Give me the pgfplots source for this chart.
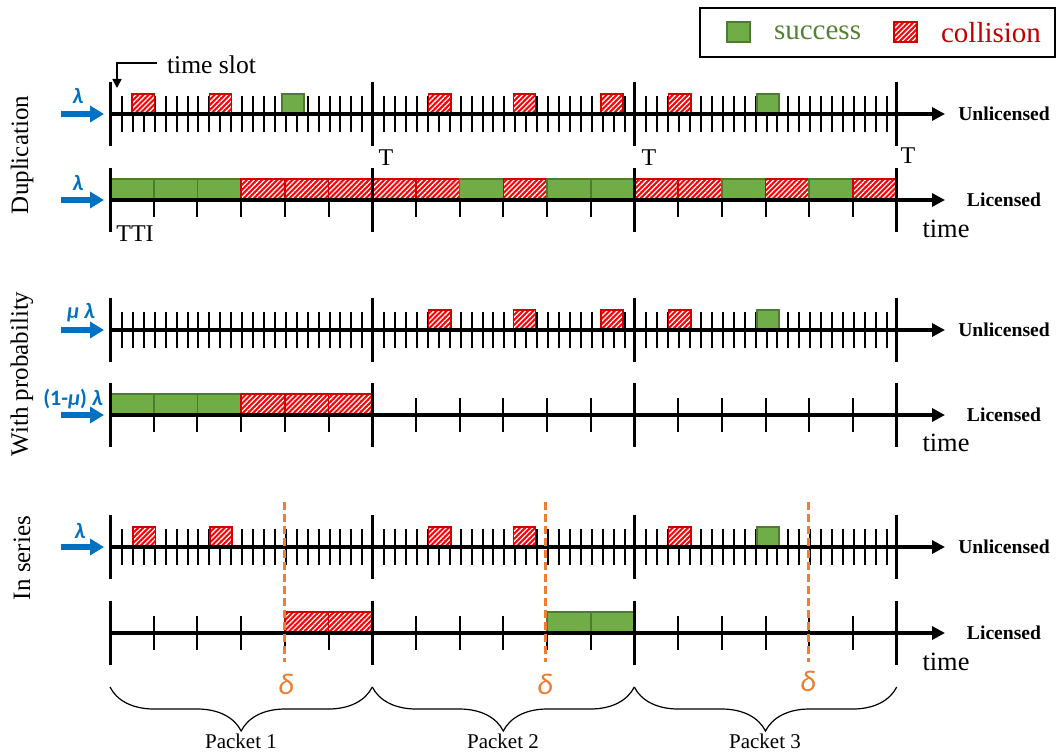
\documentclass[border=0pt]{standalone}
\usepackage{fontspec}
\setmainfont{Liberation Serif}
\newfontfamily\carlito{Carlito}
\usepackage{pgfplots}
\usepackage{pgfplotstable}
\pgfplotsset{compat=1.18}
\usetikzlibrary{arrows.meta,patterns.meta,decorations.pathreplacing}

\definecolor{sgreen}{HTML}{70AD47}
\definecolor{sgreenD}{HTML}{4E7A31}
\definecolor{cred}{HTML}{FF0000}
\definecolor{credD}{HTML}{D00000}
\definecolor{mblue}{HTML}{0070C0}
\definecolor{morange}{HTML}{ED7D31}
\definecolor{ctext}{HTML}{C00000}
\definecolor{stext}{HTML}{548235}

% time-slot ticks (unlicensed), 24 slots per period T
\pgfplotstableread{
x d
121.9 0
132.9 0
143.8 0
154.7 0
165.6 0
176.6 0
187.5 0
198.4 0
209.3 0
220.3 0
231.2 0
242.1 0
253.0 0
263.9 0
274.9 0
285.8 0
296.7 0
307.7 0
318.6 0
329.5 0
340.4 0
351.4 0
362.3 0
384.1 0
395.1 0
406.0 0
416.9 0
427.8 0
438.8 0
449.7 0
460.6 0
471.5 0
482.5 0
493.4 0
504.3 0
515.2 0
526.2 0
537.1 0
548.0 0
558.9 0
569.9 0
580.8 0
591.7 0
602.6 0
613.6 0
624.5 0
646.3 0
657.3 0
668.2 0
679.1 0
690.0 0
701.0 0
711.9 0
722.8 0
733.7 0
744.7 0
755.6 0
766.5 0
777.4 0
788.4 0
799.3 0
810.2 0
821.1 0
832.1 0
843.0 0
853.9 0
864.8 0
875.8 0
886.7 0
}\unlticks

% TTI ticks (licensed), 6 TTIs per period T
\pgfplotstableread{
x d
153.7 0
197.4 0
241.1 0
284.8 0
328.5 0
415.9 0
459.6 0
503.3 0
547.0 0
590.7 0
678.1 0
721.8 0
765.5 0
809.2 0
852.9 0
}\licticks

\pgfplotstableread{
x d
110 0
372.3 0
634.3 0
896.7 0
}\majors

\pgfplotsset{
  succ/.style={fill=sgreen, draw=sgreenD, line width=0.8pt},
  collf/.style={fill=cred, draw=credD, line width=0.8pt},
  collp/.style={pattern={Lines[angle=45,distance=1.8pt,line width=0.65pt]}, pattern color=white, draw=credD, line width=0.8pt},
  utk/.style={on layer=pre main, mark layer=like plot, only marks, mark=|, mark size=9pt, mark options={line width=1pt, draw=black}},
  ltk/.style={on layer=pre main, mark layer=like plot, only marks, mark=|, mark size=8.5pt, mark options={line width=1pt, draw=black}},
  mtk/.style={only marks, mark=|, mark size=16.2pt, mark options={line width=1.5pt, draw=black}},
  tl/.style={black, line width=2pt, -{Triangle[length=6.5pt,width=6.5pt]}},
  ba/.style={mblue, line width=2.8pt, -{Triangle[length=7pt,width=8pt]}},
  dl/.style={morange, line width=1.5pt, dash pattern=on 4pt off 2pt},
  br/.style={black, line width=0.6pt, decorate, decoration={brace, mirror, amplitude=22pt}},
}
\newcommand{\fsz}[1]{\fontsize{#1}{#1}\selectfont}
% success box: x1 x2 ytop ybottom
\newcommand{\Sb}[4]{\addplot[succ] coordinates {(#1,#3)(#2,#3)(#2,#4)(#1,#4)} --cycle;}
% collision box: x1 x2 ytop ybottom
\newcommand{\Cb}[4]{\addplot[collf] coordinates {(#1,#3)(#2,#3)(#2,#4)(#1,#4)} --cycle;
  \addplot[collp] coordinates {(#1,#3)(#2,#3)(#2,#4)(#1,#4)} --cycle;}

\begin{document}
\begin{tikzpicture}
\begin{axis}[scale only axis, width=528.5pt, height=376.5pt,
  xmin=0, xmax=1057, ymin=0, ymax=753, y dir=reverse,
  axis lines=none, clip=false, set layers,
  every node/.style={inner sep=0pt}]

\path (axis cs:0,0) rectangle (axis cs:1057,753);

% ================= ticks =================
\addplot[utk] table[x=x, y expr=114] {\unlticks};
\addplot[ltk] table[x=x, y expr=200] {\licticks};
\addplot[utk] table[x=x, y expr=330] {\unlticks};
\addplot[ltk] table[x=x, y expr=415] {\licticks};
\addplot[utk] table[x=x, y expr=547] {\unlticks};
\addplot[ltk] table[x=x, y expr=633] {\licticks};

% ================= Duplication: unlicensed =================
\Cb{132}{154.5}{94}{114}
\Cb{209.5}{231.5}{94}{114}
\Sb{282}{304}{94}{114}
\Cb{428.5}{451}{94}{114}
\Cb{513.5}{535.5}{94}{114}
\Cb{601}{623}{94}{114}
\Cb{668.5}{691}{94}{114}
\Sb{757}{779}{94}{114}

% ================= Duplication: licensed =================
\Sb{110}{153.7}{179}{200}
\Sb{153.7}{197.4}{179}{200}
\Sb{197.4}{241.1}{179}{200}
\Cb{241.1}{284.8}{179}{200}
\Cb{284.8}{328.5}{179}{200}
\Cb{328.5}{372.2}{179}{200}
\Cb{372.2}{415.9}{179}{200}
\Cb{415.9}{459.6}{179}{200}
\Sb{459.6}{503.3}{179}{200}
\Cb{503.3}{547.0}{179}{200}
\Sb{547.0}{590.7}{179}{200}
\Sb{590.7}{634.4}{179}{200}
\Cb{634.4}{678.1}{179}{200}
\Cb{678.1}{721.8}{179}{200}
\Sb{721.8}{765.5}{179}{200}
\Cb{765.5}{809.2}{179}{200}
\Sb{809.2}{852.9}{179}{200}
\Cb{852.9}{896.6}{179}{200}

% ================= With probability: unlicensed =================
\Cb{428.5}{451}{310}{330}
\Cb{513.5}{535.5}{310}{330}
\Cb{601}{623}{310}{330}
\Cb{668.5}{691}{310}{330}
\Sb{757}{779}{310}{330}

% ================= With probability: licensed =================
\Sb{110}{153.7}{394}{415}
\Sb{153.7}{197.4}{394}{415}
\Sb{197.4}{241.1}{394}{415}
\Cb{241.1}{284.8}{394}{415}
\Cb{284.8}{328.5}{394}{415}
\Cb{328.5}{372.2}{394}{415}

% ================= In series: unlicensed =================
\Cb{133}{155.5}{527}{547}
\Cb{210}{232}{527}{547}
\Cb{428.5}{451}{527}{547}
\Cb{513.5}{535.5}{527}{547}
\Cb{668.5}{691}{527}{547}
\Sb{757}{779}{527}{547}

% ================= In series: licensed =================
\Cb{284.8}{328.5}{612}{633}
\Cb{328.5}{372.2}{612}{633}
\Sb{547.0}{590.7}{612}{633}
\Sb{590.7}{634.4}{612}{633}

% ================= time axes =================
\addplot[tl] coordinates {(110,114)(945,114)};
\addplot[tl] coordinates {(110,200)(945,200)};
\addplot[tl] coordinates {(110,330)(945,330)};
\addplot[tl] coordinates {(110,415)(945,415)};
\addplot[tl] coordinates {(110,547)(945,547)};
\addplot[tl] coordinates {(110,633)(945,633)};

% ================= period boundaries =================
\addplot[mtk] table[x=x, y expr=114] {\majors};
\addplot[mtk] table[x=x, y expr=200] {\majors};
\addplot[mtk] table[x=x, y expr=330] {\majors};
\addplot[mtk] table[x=x, y expr=415] {\majors};
\addplot[mtk] table[x=x, y expr=547] {\majors};
\addplot[mtk] table[x=x, y expr=633] {\majors};

% ================= arrivals =================
\addplot[ba] coordinates {(61,114)(104,114)};
\addplot[ba] coordinates {(61,200)(104,200)};
\addplot[ba] coordinates {(61,330)(104,330)};
\addplot[ba] coordinates {(61,415)(104,415)};
\addplot[ba] coordinates {(61,547)(104,547)};

% ================= delta lines =================
\addplot[dl] coordinates {(284.5,502)(284.5,662)};
\addplot[dl] coordinates {(545.5,502)(545.5,662)};
\addplot[dl] coordinates {(808.5,502)(808.5,662)};

% ================= time slot pointer =================
\addplot[black, line width=0.75pt, -{Triangle[length=4.5pt,width=4.5pt]}] coordinates {(157,63)(117,63)(117,88)};

% ================= braces =================
\addplot[br] coordinates {(110,687)(372.3,687)};
\addplot[br] coordinates {(372.3,687)(634.3,687)};
\addplot[br] coordinates {(634.3,687)(896.7,687)};

% ================= legend =================
\addplot[black, line width=1pt] coordinates {(700,8)(1055,8)(1055,57)(700,57)} --cycle;
\Sb{727}{750}{22}{42}
\Cb{894}{917}{22}{42}
\node[anchor=west, text=stext] at (axis cs:767,33) {\fsz{14.5}success};
\node[anchor=west, text=ctext] at (axis cs:934,33) {\fsz{14.5}collision};

% ================= texts =================
\node[anchor=west] at (axis cs:160,65) {\fsz{12.8}time slot};
\node[rotate=90] at (axis cs:22,155) {\fsz{12.5}Duplication};
\node[rotate=90] at (axis cs:22,374) {\fsz{12.5}With probability};
\node[rotate=90] at (axis cs:22,558) {\fsz{12.5}In series};

\node at (axis cs:386,158) {\fsz{12}T};
\node at (axis cs:649,158) {\fsz{12}T};
\node at (axis cs:908,156) {\fsz{12}T};
\node at (axis cs:135,234) {\fsz{12}TTI};

\node at (axis cs:1004,114) {\fsz{9.8}\bfseries Unlicensed};
\node at (axis cs:1004,330) {\fsz{9.8}\bfseries Unlicensed};
\node at (axis cs:1004,547) {\fsz{9.8}\bfseries Unlicensed};
\node at (axis cs:1004,200) {\fsz{9.8}\bfseries Licensed};
\node at (axis cs:1004,415) {\fsz{9.8}\bfseries Licensed};
\node at (axis cs:1004,633) {\fsz{9.8}\bfseries Licensed};

\node at (axis cs:946,229) {\fsz{13.2}time};
\node at (axis cs:946,443) {\fsz{13.2}time};
\node at (axis cs:946,662) {\fsz{13.2}time};

\node[text=mblue] at (axis cs:78,96) {\fsz{11}\carlito\bfseries\itshape λ};
\node[text=mblue] at (axis cs:78,183) {\fsz{11}\carlito\bfseries\itshape λ};
\node[text=mblue] at (axis cs:81,313) {\fsz{11}\carlito\bfseries\itshape μ λ};
\node[text=mblue] at (axis cs:73,399) {\fsz{11}\carlito\bfseries (1-\textit{μ}) \textit{λ}};
\node[text=mblue] at (axis cs:80,531) {\fsz{11}\carlito\bfseries\itshape λ};

\node[text=morange] at (axis cs:286,684) {\fsz{15}\carlito\itshape δ};
\node[text=morange] at (axis cs:545,684) {\fsz{15}\carlito\itshape δ};
\node[text=morange] at (axis cs:808,681) {\fsz{15}\carlito\itshape δ};

\node at (axis cs:241,741) {\fsz{10.5}Packet 1};
\node at (axis cs:503,741) {\fsz{10.5}Packet 2};
\node at (axis cs:765,741) {\fsz{10.5}Packet 3};

\end{axis}
\end{tikzpicture}
\end{document}
